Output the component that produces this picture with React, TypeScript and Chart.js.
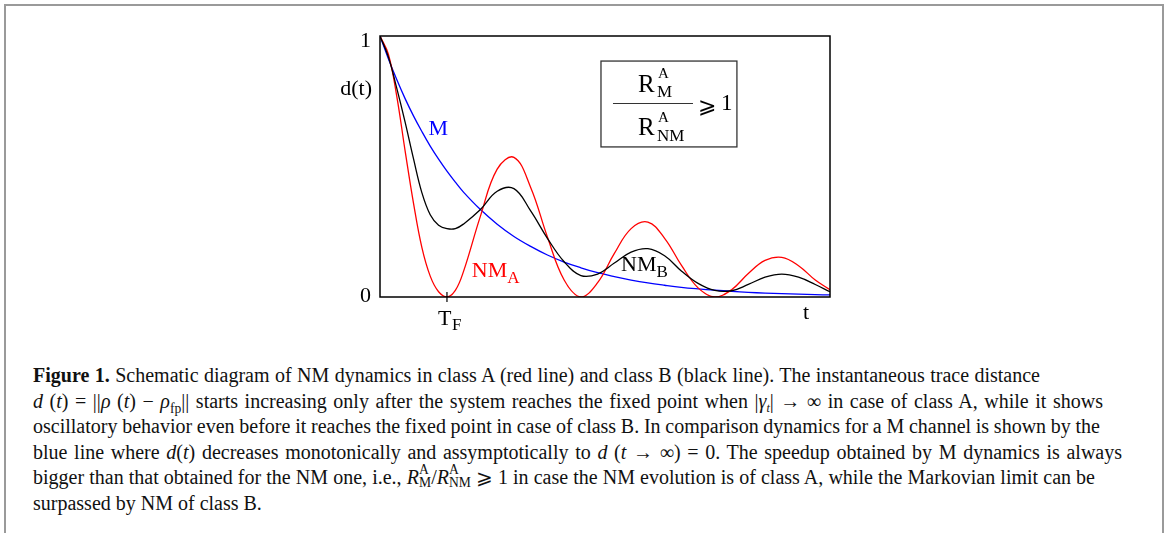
import React, { useEffect, useLayoutEffect, useRef } from "react";
import { Chart, registerables } from "chart.js";

Chart.register(...registerables);

// ---- data ----
const tValues = [0, 0.125, 0.25, 0.375, 0.5, 0.625, 0.75, 0.875, 1, 1.125, 1.25, 1.5, 1.75, 2, 2.25, 2.5, 2.75, 3, 3.25, 3.5, 3.75, 4, 4.25, 4.5, 4.75, 5, 5.25, 5.5, 5.75, 6, 6.25, 6.5, 6.72];
const markovM = [1, 0.913, 0.833, 0.76, 0.694, 0.634, 0.578, 0.528, 0.482, 0.44, 0.401, 0.335, 0.279, 0.232, 0.194, 0.161, 0.134, 0.112, 0.093, 0.078, 0.065, 0.054, 0.045, 0.037, 0.031, 0.026, 0.022, 0.018, 0.015, 0.013, 0.011, 0.009, 0.008];
const classA = [1, 0.93, 0.77, 0.56, 0.36, 0.19, 0.08, 0.02, 0, 0.025, 0.1, 0.31, 0.49, 0.535, 0.42, 0.23, 0.065, 0, 0.055, 0.167, 0.262, 0.287, 0.225, 0.122, 0.035, 0, 0.028, 0.09, 0.14, 0.152, 0.12, 0.065, 0.028];
const classB = [1, 0.92, 0.8, 0.67, 0.53, 0.4, 0.315, 0.275, 0.262, 0.262, 0.28, 0.335, 0.405, 0.415, 0.33, 0.225, 0.135, 0.082, 0.088, 0.13, 0.172, 0.185, 0.158, 0.1, 0.052, 0.025, 0.024, 0.048, 0.076, 0.088, 0.076, 0.048, 0.02];
const tMax = 6.72;
const yTickValues = [0, 1];
const yTickLabels = ["0", "1"];
const xTickValue = 1; // T_F
const xTickMain = "T";
const xTickSub = "F";
const xAxisTitle = "t";
const yAxisTitle = "d(t)";
// label anchors in data coordinates
const labelM = { x: 0.87, y: 0.651, text: "M" };
const labelNMA = { x: 1.37, y: 0.077, main: "NM", sub: "A" };
const labelNMB = { x: 3.6, y: 0.1, main: "NM", sub: "B" };
const boxCorners = { x0: 3.3, y0: 0.904, x1: 5.33, y1: 0.575 };

const SERIF = "'Liberation Serif', 'Times New Roman', serif";

const annotate = {
  id: "annotate",
  afterDatasetsDraw(chart: any) {
    const { ctx, chartArea: a, scales } = chart;
    const x = scales.x;
    const y = scales.y;
    ctx.save();
    // frame
    ctx.strokeStyle = "#000";
    ctx.lineWidth = 1.5;
    ctx.strokeRect(a.left, a.top, a.right - a.left, a.bottom - a.top);

    // T_F tick
    const xf = x.getPixelForValue(xTickValue);
    const y0 = y.getPixelForValue(0);
    ctx.lineWidth = 1.2;
    ctx.beginPath();
    ctx.moveTo(xf, y0 - 5);
    ctx.lineTo(xf, y0 + 5);
    ctx.stroke();

    ctx.fillStyle = "#000";
    ctx.textBaseline = "alphabetic";
    // y tick labels
    ctx.font = `22px ${SERIF}`;
    ctx.textAlign = "right";
    yTickValues.forEach((v, i) => {
      const py = y.getPixelForValue(v);
      ctx.fillText(yTickLabels[i], a.left - 9, py + (v === 1 ? 11 : 5));
    });
    // y title
    ctx.fillText(yAxisTitle, a.left - 8, y.getPixelForValue(0.8) + 7);
    // x tick label T_F
    ctx.textAlign = "left";
    ctx.fillText(xTickMain, xf - 9, y0 + 28);
    ctx.font = `17px ${SERIF}`;
    ctx.fillText(xTickSub, xf + 5, y0 + 33);
    // x title
    ctx.font = `22px ${SERIF}`;
    ctx.textAlign = "center";
    ctx.fillText(xAxisTitle, a.right - 24, y0 + 22);

    // curve labels
    ctx.textAlign = "center";
    ctx.fillStyle = "#0000ff";
    ctx.fillText(labelM.text, x.getPixelForValue(labelM.x), y.getPixelForValue(labelM.y) + 8);

    ctx.textAlign = "left";
    ctx.fillStyle = "#ff0000";
    let px = x.getPixelForValue(labelNMA.x);
    let py = y.getPixelForValue(labelNMA.y);
    ctx.font = `22px ${SERIF}`;
    ctx.fillText(labelNMA.main, px, py);
    let w = ctx.measureText(labelNMA.main).width;
    ctx.font = `17px ${SERIF}`;
    ctx.fillText(labelNMA.sub, px + w, py + 6);

    ctx.fillStyle = "#000";
    px = x.getPixelForValue(labelNMB.x);
    py = y.getPixelForValue(labelNMB.y);
    ctx.font = `22px ${SERIF}`;
    ctx.fillText(labelNMB.main, px, py);
    w = ctx.measureText(labelNMB.main).width;
    ctx.font = `17px ${SERIF}`;
    ctx.fillText(labelNMB.sub, px + w, py + 6);

    // formula box
    const bx0 = x.getPixelForValue(boxCorners.x0);
    const by0 = y.getPixelForValue(boxCorners.y0);
    const bx1 = x.getPixelForValue(boxCorners.x1);
    const by1 = y.getPixelForValue(boxCorners.y1);
    ctx.fillStyle = "#fff";
    ctx.fillRect(bx0, by0, bx1 - bx0, by1 - by0);
    ctx.strokeStyle = "#333";
    ctx.lineWidth = 1.3;
    ctx.strokeRect(bx0, by0, bx1 - bx0, by1 - by0);
    ctx.fillStyle = "#000";
    ctx.textAlign = "left";
    // numerator R^A_M
    ctx.font = `25px ${SERIF}`;
    ctx.fillText("R", bx0 + 37, by0 + 31);
    ctx.font = `15px ${SERIF}`;
    ctx.fillText("A", bx0 + 57, by0 + 17);
    ctx.font = `17px ${SERIF}`;
    ctx.fillText("M", bx0 + 56, by0 + 36);
    // fraction bar
    ctx.beginPath();
    ctx.lineWidth = 1.1;
    ctx.moveTo(bx0 + 12, by0 + 42.5);
    ctx.lineTo(bx0 + 92, by0 + 42.5);
    ctx.stroke();
    // denominator R^A_NM
    ctx.font = `25px ${SERIF}`;
    ctx.fillText("R", bx0 + 37, by0 + 74);
    ctx.font = `15px ${SERIF}`;
    ctx.fillText("A", bx0 + 57, by0 + 61);
    ctx.font = `17px ${SERIF}`;
    ctx.fillText("NM", bx0 + 56, by0 + 80);
    // >= 1
    ctx.font = `22px 'DejaVu Serif', ${SERIF}`;
    ctx.fillText("\u2A7E", bx0 + 97, by0 + 52);
    ctx.font = `23px ${SERIF}`;
    ctx.fillText("1", bx0 + 120, by0 + 49);

    ctx.restore();
  },
};

function ChartBox() {
  const ref = useRef<HTMLCanvasElement>(null);
  useEffect(() => {
    if (!ref.current) return;
    const mk = (arr: number[]) => tValues.map((t, i) => ({ x: t, y: arr[i] }));
    const chart = new Chart(ref.current, {
      type: "line",
      data: {
        datasets: [
          { label: "NM_B", data: mk(classB), borderColor: "#000000", borderWidth: 1.3, pointRadius: 0, tension: 0.4, fill: false },
          { label: "NM_A", data: mk(classA), borderColor: "#ff0000", borderWidth: 1.3, pointRadius: 0, tension: 0.4, fill: false },
          { label: "M", data: mk(markovM), borderColor: "#0000ff", borderWidth: 1.3, pointRadius: 0, tension: 0.4, fill: false },
        ],
      },
      options: {
        animation: false,
        responsive: false,
        devicePixelRatio: 1,
        layout: { padding: { left: 60, top: 16, right: 30, bottom: 43 } },
        plugins: { legend: { display: false }, tooltip: { enabled: false } },
        scales: {
          x: { type: "linear", min: 0, max: tMax, display: false },
          y: { type: "linear", min: 0, max: 1, display: false },
        },
      },
      plugins: [annotate],
    });
    return () => chart.destroy();
  }, []);
  return <canvas ref={ref} width={540} height={320} style={{ position: "absolute", left: 320, top: 20, width: 540, height: 320 }} />;
}

const capFont: React.CSSProperties = { fontFamily: SERIF, fontSize: 20, color: "#111" };
const mathI: React.CSSProperties = { fontStyle: "italic" };

function SubSup({ sup, sub }: { sup: string; sub: string }) {
  return (
    <span style={{ display: "inline-block", position: "relative", verticalAlign: "top", fontSize: "0.68em", lineHeight: 1, width: sub.length > 1 ? "1.6em" : "0.9em", height: "1em" }}>
      <span style={{ position: "absolute", left: 0, top: -3 }}>{sup}</span>
      <span style={{ position: "absolute", left: 0, top: 10 }}>{sub}</span>
    </span>
  );
}

const lineLeft = 33;
const lineTop0 = 364;
const lineStep = 25.6;
const lineRightEdges = [1040, 1103, 1100, 1122, 1095, 0];

const CaptionLine = React.forwardRef<HTMLDivElement, { i: number; children: React.ReactNode }>(({ i, children }, ref) => (
  <div ref={ref} style={{ ...capFont, position: "absolute", left: lineLeft, top: lineTop0 + i * lineStep, whiteSpace: "nowrap", lineHeight: "22px" }}>
    {children}
  </div>
));

export default function App() {
  const refs = useRef<(HTMLDivElement | null)[]>([]);
  useLayoutEffect(() => {
    refs.current.forEach((el, i) => {
      if (!el || !lineRightEdges[i]) return;
      el.style.wordSpacing = "0px";
      const w = el.getBoundingClientRect().width;
      const spaces = (el.textContent || "").split(" ").length - 1;
      if (spaces > 0) {
        const extra = (lineRightEdges[i] - lineLeft - w) / spaces;
        el.style.wordSpacing = `${extra}px`;
      }
    });
  }, []);
  const setRef = (i: number) => (el: HTMLDivElement | null) => {
    refs.current[i] = el;
  };
  return (
    <div style={{ position: "absolute", left: 0, top: 0, width: 1166, height: 533, background: "#fff", overflow: "hidden" }}>
      <div style={{ position: "absolute", left: 4, top: 4, width: 1156, height: 560, borderLeft: "2px solid #9a9a9a", borderTop: "2px solid #9a9a9a", borderRight: "2px solid #9a9a9a" }} />
      <ChartBox />
      <CaptionLine i={0} ref={setRef(0)}>
        <b>Figure 1.</b> Schematic diagram of NM dynamics in class A (red line) and class B (black line). The instantaneous trace distance
      </CaptionLine>
      <CaptionLine i={1} ref={setRef(1)}>
        <span style={mathI}>d</span> (<span style={mathI}>t</span>) = ||<span style={mathI}>ρ</span> (<span style={mathI}>t</span>) − <span style={mathI}>ρ</span>
        <span style={{ fontSize: "0.68em", verticalAlign: "-0.35em", lineHeight: 0 }}>fp</span>|| starts increasing only after the system reaches the fixed point when |<span style={mathI}>γ</span>
        <span style={{ fontSize: "0.6em", verticalAlign: "-0.3em", lineHeight: 0, ...mathI }}>t</span>| → ∞ in case of class A, while it shows
      </CaptionLine>
      <CaptionLine i={2} ref={setRef(2)}>
        oscillatory behavior even before it reaches the fixed point in case of class B. In comparison dynamics for a M channel is shown by the
      </CaptionLine>
      <CaptionLine i={3} ref={setRef(3)}>
        blue line where <span style={mathI}>d</span>(<span style={mathI}>t</span>) decreases monotonically and assymptotically to <span style={mathI}>d</span> (<span style={mathI}>t</span> → ∞) = 0. The speedup obtained by M dynamics is always
      </CaptionLine>
      <CaptionLine i={4} ref={setRef(4)}>
        bigger than that obtained for the NM one, i.e., <span style={mathI}>R</span>
        <SubSup sup="A" sub="M" />/<span style={mathI}>R</span>
        <SubSup sup="A" sub="NM" /> ⩾ 1 in case the NM evolution is of class A, while the Markovian limit can be
      </CaptionLine>
      <CaptionLine i={5} ref={setRef(5)}>surpassed by NM of class B.</CaptionLine>
    </div>
  );
}
